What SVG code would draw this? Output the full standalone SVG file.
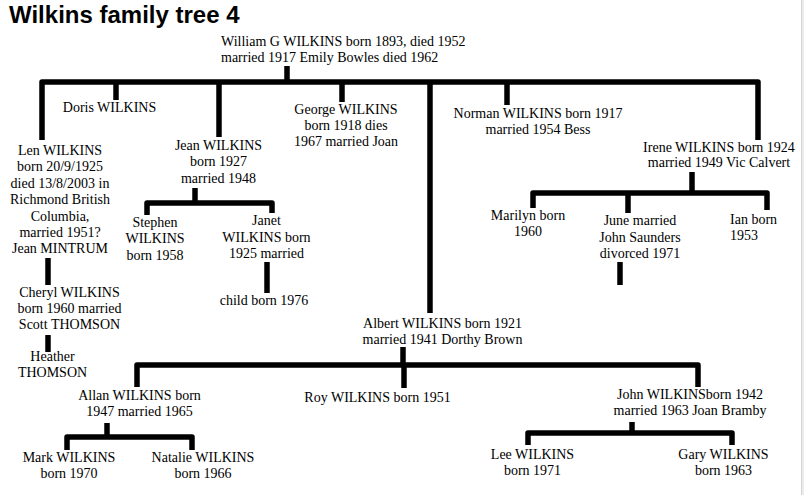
<svg xmlns="http://www.w3.org/2000/svg" width="804" height="495" viewBox="0 0 804 495">
<style>
.t{font-family:"Liberation Serif","Times New Roman",serif;font-size:14px;fill:#000;text-anchor:middle}
.l{text-anchor:start}
.title{font-family:"Liberation Sans",Arial,sans-serif;font-size:24px;font-weight:bold;fill:#000}
.c path{fill:none;stroke:#000;stroke-width:5.5;stroke-linejoin:round;stroke-linecap:butt}
</style>
<rect width="804" height="495" fill="#fff"/>
<rect x="801" y="0" width="3" height="495" fill="#ececec"/>
<line x1="801.5" y1="0" x2="801.5" y2="495" stroke="#d4d4d4" stroke-width="1"/>
<text class="title" x="9" y="23">Wilkins family tree 4</text>
<g class="c" id="connectors">
<path d="M287,66V82"/>
<path d="M42,140V82H758V140"/>
<path d="M116,82V100"/>
<path d="M219,82V137"/>
<path d="M342,82V102"/>
<path d="M430,82V313"/>
<path d="M507,82V105"/>
<path d="M692,172V193"/>
<path d="M533,208V193H767V210"/>
<path d="M628,193V213"/>
<path d="M620,262V285"/>
<path d="M195,188V203"/>
<path d="M147,215V203H272V213"/>
<path d="M267,262V293"/>
<path d="M48,258V285"/>
<path d="M48,335V352"/>
<path d="M403,347V365"/>
<path d="M137,387V365H698V387"/>
<path d="M404,365V388"/>
<path d="M107,423V437"/>
<path d="M67,450V437H192V450"/>
<path d="M632,422V433"/>
<path d="M528,445V433H732V445"/>
</g>
<g id="william"><text class="t l" x="221" y="46">William G WILKINS born 1893, died 1952</text><text class="t l" x="221" y="62">married 1917 Emily Bowles died 1962</text></g>
<g id="doris"><text class="t" x="109.5" y="112">Doris WILKINS</text></g>
<g id="len"><text class="t" x="60" y="155">Len WILKINS</text><text class="t" x="60" y="171.4">born 20/9/1925</text><text class="t" x="60" y="187.8">died 13/8/2003 in</text><text class="t" x="60" y="204.2">Richmond British</text><text class="t" x="60" y="220.6">Columbia,</text><text class="t" x="60" y="237">married 1951?</text><text class="t" x="60" y="253.4">Jean MINTRUM</text></g>
<g id="jean"><text class="t" x="218.5" y="150">Jean WILKINS</text><text class="t" x="218.5" y="166.3">born 1927</text><text class="t" x="218.5" y="182.7">married 1948</text></g>
<g id="george"><text class="t" x="346" y="114">George WILKINS</text><text class="t" x="346" y="130">born 1918 dies</text><text class="t" x="346" y="146">1967 married Joan</text></g>
<g id="norman"><text class="t" x="538" y="118">Norman WILKINS born 1917</text><text class="t" x="538" y="134">married 1954 Bess</text></g>
<g id="irene"><text class="t" x="719" y="152">Irene WILKINS born 1924</text><text class="t" x="719" y="167">married 1949 Vic Calvert</text></g>
<g id="marilyn"><text class="t" x="528" y="219.5">Marilyn born</text><text class="t" x="528" y="235.5">1960</text></g>
<g id="june"><text class="t" x="640" y="225">June married</text><text class="t" x="640" y="241.5">John Saunders</text><text class="t" x="640" y="258">divorced 1971</text></g>
<g id="ian"><text class="t l" x="730" y="223.5">Ian born</text><text class="t l" x="730" y="240">1953</text></g>
<g id="stephen"><text class="t" x="155" y="226.5">Stephen</text><text class="t" x="155" y="243">WILKINS</text><text class="t" x="155" y="259.5">born 1958</text></g>
<g id="janet"><text class="t" x="266.5" y="225">Janet</text><text class="t" x="266.5" y="241.5">WILKINS born</text><text class="t" x="266.5" y="258">1925 married</text></g>
<g id="child"><text class="t" x="264" y="305">child born 1976</text></g>
<g id="cheryl"><text class="t" x="69.5" y="296.5">Cheryl WILKINS</text><text class="t" x="69.5" y="312.5">born 1960 married</text><text class="t" x="69.5" y="328.5">Scott THOMSON</text></g>
<g id="heather"><text class="t" x="52.5" y="361">Heather</text><text class="t" x="52.5" y="377">THOMSON</text></g>
<g id="albert"><text class="t" x="442.5" y="327.5">Albert WILKINS born 1921</text><text class="t" x="442.5" y="343.5">married 1941 Dorthy Brown</text></g>
<g id="roy"><text class="t" x="377.5" y="401.5">Roy WILKINS born 1951</text></g>
<g id="allan"><text class="t" x="139.5" y="400">Allan WILKINS born</text><text class="t" x="139.5" y="416">1947 married 1965</text></g>
<g id="john"><text class="t" x="690" y="398.5">John WILKINSborn 1942</text><text class="t" x="690" y="415">married 1963 Joan Bramby</text></g>
<g id="mark"><text class="t" x="69" y="462">Mark WILKINS</text><text class="t" x="69" y="478">born 1970</text></g>
<g id="natalie"><text class="t" x="203" y="462">Natalie WILKINS</text><text class="t" x="203" y="478">born 1966</text></g>
<g id="lee"><text class="t" x="532.5" y="458.5">Lee WILKINS</text><text class="t" x="532.5" y="474.5">born 1971</text></g>
<g id="gary"><text class="t" x="723.5" y="458.5">Gary WILKINS</text><text class="t" x="723.5" y="474.5">born 1963</text></g>
</svg>
